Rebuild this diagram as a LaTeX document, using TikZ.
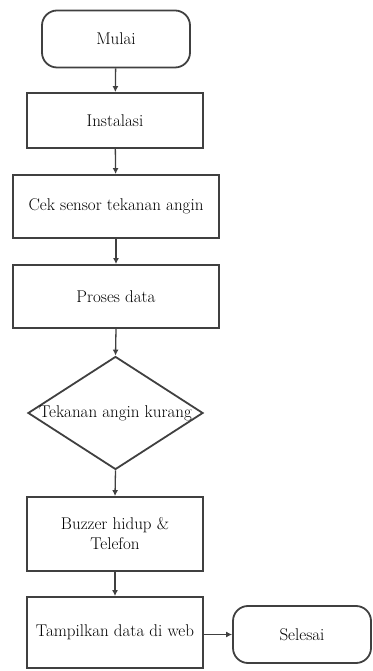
\documentclass[tikz,border=0pt]{standalone}
\usetikzlibrary{shapes.geometric,arrows.meta}
\begin{document}
\begin{tikzpicture}[x=1pt,y=1pt,
  lbl/.style={text=black, font=\fontsize{17}{20}\selectfont},
  box/.style={lbl, draw=black!75, line width=1.8pt, minimum width=#1, inner sep=0pt, align=center},
  term/.style={box=#1, rounded corners=15pt},
  link/.style={draw=black!75, line width=1.3pt, -{Latex[length=6pt,width=6pt]}}]
\useasboundingbox (0,0) rectangle (372,671);
\node[term=148pt, minimum height=57pt] (mulai) at (116,632) {Mulai};
\node[box=176pt, minimum height=55pt] (inst) at (115,550.5) {Instalasi};
\node[box=206pt, minimum height=63pt] (cek) at (116,464.5) {Cek sensor tekanan angin};
\node[box=206pt, minimum height=63pt] (proses) at (116,374.5) {Proses data};
\node[draw=black!75, line width=1.8pt, diamond, minimum width=175pt, minimum height=113pt, inner sep=0pt] (dec) at (115.5,258) {};
\node[lbl] (dectext) at (dec.center) {Tekanan angin kurang};
\node[box=176pt, minimum height=74pt] (buzz) at (115,137) {Buzzer hidup \&\\Telefon};
\node[box=176pt, minimum height=71pt] (tamp) at (115,38.5) {Tampilkan data di web};
\node[term=138pt, minimum height=57pt] (selesai) at (302,36.5) {Selesai};
\draw[link] (mulai) -- (inst);
\draw[link] (inst) -- (cek);
\draw[link] (cek) -- (proses);
\draw[link] (proses.south) -- (dec.north);
\draw[link] (dec.south) -- (buzz.north);
\draw[link] (buzz) -- (tamp);
\draw[link] (tamp.east |- selesai.west) -- (selesai.west);
\end{tikzpicture}
\end{document}
